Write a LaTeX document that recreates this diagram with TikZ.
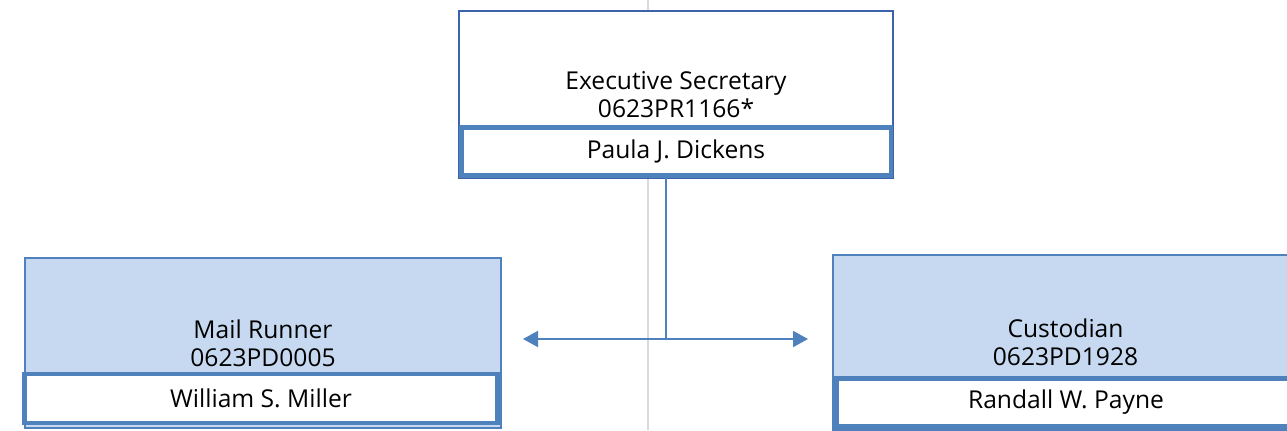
\documentclass[tikz,border=0pt]{standalone}
\usepackage{fontspec}
\setmainfont{Open Sans}
\usepackage{tikz}
\usepackage{xcolor}
\usetikzlibrary{arrows.meta,calc,positioning}
\definecolor{boxblue}{HTML}{4F81BD}
\definecolor{topblue}{HTML}{3B64AD}
\definecolor{boxfill}{HTML}{C6D9F0}
\definecolor{guide}{HTML}{D9D9D9}
\tikzset{%
	posbox/.style  = {draw=boxblue, line width=0.8pt, fill=boxfill, rectangle, align=center, text centered, font=\fontsize{14}{16}\selectfont},
	namebox/.style = {draw=boxblue, line width=2.8pt, fill=white, rectangle, text centered, font=\fontsize{14}{16}\selectfont},
	arrow/.style   = {draw=boxblue, line width=1.1pt, {Triangle[length=0.3cm,width=0.32cm]}-{Triangle[length=0.3cm,width=0.32cm]}},
}

\begin{document}
\begin{tikzpicture}[x=0.02cm,y=-0.02cm]
	\useasboundingbox (0,0) rectangle (1287,430);
	\clip (0,0) rectangle (1287,430);
	\draw[guide, line width=0.6pt] (648,0) -- (648,430);  % page guide
	% top position
	\node[posbox, draw=topblue, fill=white, minimum width=8.68cm, minimum height=3.34cm] (sec) at (676,94.5) {Executive Secretary\\0623PR1166*};
	\node[namebox, minimum width=8.6cm, minimum height=0.96cm] (secname) at (676,151.5) {Paula J. Dickens};
	% left position
	\node[posbox, minimum width=9.52cm, minimum height=3.4cm] (runner) at (263,343) {Mail Runner\\0623PD0005};
	\node[namebox, minimum width=9.45cm, minimum height=0.98cm] (runnername) at (261,398.5) {William S. Miller};
	% right position
	\node[posbox, minimum width=9.3cm, minimum height=3.5cm] (cust) at (1065.5,342.5) {Custodian\\0623PD1928};
	\node[namebox, minimum width=9.2cm, minimum height=0.95cm] (custname) at (1066,402.5) {Randall W. Payne};
	% connector
	\coordinate (fork) at (666,339);
	\coordinate (lend) at (523,339);
	\coordinate (rend) at (808,339);
	\draw[boxblue, line width=1.1pt] (fork |- secname.south) -- (fork);
	\draw[arrow] (lend) -- (rend);
\end{tikzpicture}
\end{document}
